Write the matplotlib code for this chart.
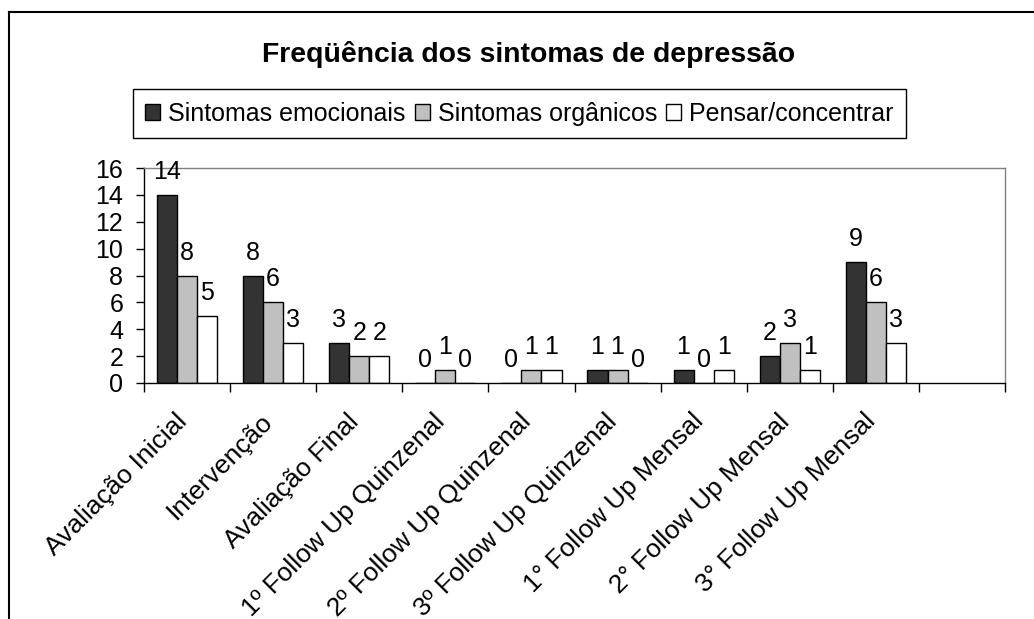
import matplotlib
matplotlib.use("Agg")
import matplotlib.pyplot as plt
from matplotlib.lines import Line2D
from matplotlib.patches import Patch
import matplotlib.transforms as mtransforms
import numpy as np

plt.rcParams['font.family'] = ['Liberation Sans', 'DejaVu Sans']

title = "Freqüência dos sintomas de depressão"
categories = ["Avaliação Inicial", "Intervenção", "Avaliação Final",
              "1º Follow Up Quinzenal", "2º Follow Up Quinzenal", "3º Follow Up Quinzenal",
              "1° Follow Up Mensal", "2° Follow Up Mensal", "3° Follow Up Mensal"]
series_names = ["Sintomas emocionais", "Sintomas orgânicos", "Pensar/concentrar"]
emocionais = [14, 8, 3, 0, 0, 1, 1, 2, 9]
organicos = [8, 6, 2, 1, 1, 1, 0, 3, 6]
pensar = [5, 3, 2, 0, 1, 0, 1, 1, 3]
n_slots = 10
yticks = [0, 2, 4, 6, 8, 10, 12, 14, 16]

colors = ["#333333", "#c0c0c0", "#ffffff"]

W, H = 1034, 619
fig = plt.figure(figsize=(W / 100, H / 100), dpi=100)
ax = fig.add_axes([144 / W, 1 - 383 / H, (1005 - 144) / W, (383 - 168) / H])

x = np.arange(len(categories))
bw = 0.7 / 3
for i, (vals, col) in enumerate(zip([emocionais, organicos, pensar], colors)):
    pos = x + (i - 1) * bw
    ax.bar(pos, vals, width=bw, color=col, edgecolor="black", linewidth=1, zorder=2)
    for p, v in zip(pos, vals):
        ax.annotate(str(v), (p, v), xytext=(0, 11.5), textcoords="offset points",
                    ha="center", va="baseline", fontsize=18, annotation_clip=False, zorder=3)

ax.set_xlim(-0.5, n_slots - 0.5)
ax.set_ylim(0, 16)
ax.set_yticks(yticks)
ax.set_yticklabels([str(t) for t in yticks], fontsize=18)
ax.tick_params(axis="y", length=6, width=1, pad=9, direction="out")

ax.set_xticks(np.arange(-0.5, n_slots, 1.0))
ax.set_xticklabels([])
ax.tick_params(axis="x", which="major", length=6.5, width=1, direction="out")
ax.set_xticks(x, minor=True)
ax.set_xticklabels(categories, minor=True, rotation=45, ha="right", va="center",
                   rotation_mode="anchor", fontsize=19)
ax.tick_params(axis="x", which="minor", length=0, pad=25)
offset = mtransforms.ScaledTranslation(-4 / 100, 0, fig.dpi_scale_trans)
for lab in ax.get_xticklabels(minor=True):
    lab.set_transform(lab.get_transform() + offset)

for s in ["top", "right"]:
    ax.spines[s].set_color("#808080")
    ax.spines[s].set_linewidth(1)
for s in ["left", "bottom"]:
    ax.spines[s].set_color("black")
    ax.spines[s].set_linewidth(1)

fig.text(529 / W, 1 - 61.7 / H, title, ha="center", va="baseline",
         fontsize=20.4, fontweight="bold")

handles = [Patch(facecolor=c, edgecolor="black", linewidth=1) for c in colors]
leg = fig.legend(handles, series_names, loc="center",
                 bbox_to_anchor=(519.5 / W, 1 - 113.7 / H), ncol=3, fontsize=18,
                 frameon=True, fancybox=False, edgecolor="black", framealpha=1,
                 handlelength=0.6, handleheight=0.6, handletextpad=0.32,
                 columnspacing=0.36, borderpad=0.5, borderaxespad=0)
leg.get_frame().set_linewidth(1)

fig.add_artist(Line2D([9 / W, 9 / W], [0, 1 - 12 / H], transform=fig.transFigure,
                      color="black", linewidth=1.5))
fig.add_artist(Line2D([9 / W, 1], [1 - 12 / H, 1 - 12 / H], transform=fig.transFigure,
                      color="black", linewidth=1.5))

fig.savefig("out.png", dpi=100)
